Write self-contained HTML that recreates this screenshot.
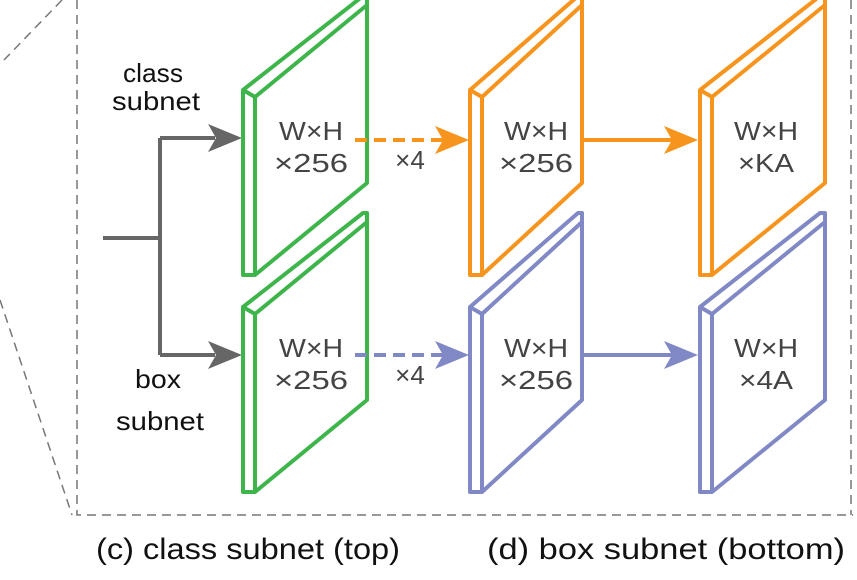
<!DOCTYPE html>
<html><head><style>body{margin:0;background:#fff}svg{display:block}</style></head><body>
<svg width="857" height="580" viewBox="0 0 857 580" xmlns="http://www.w3.org/2000/svg" font-family="Liberation Sans, sans-serif">
<g stroke="#777" stroke-width="1.5" stroke-dasharray="9,6" fill="none">
<path d="M77 0 V515 H853"/><path d="M851 0 V515"/>
<path d="M62 0 L4 60"/><path d="M0 300 L72 515"/>
</g>
<g stroke="#666" stroke-width="4" fill="none">
<path d="M103 238 H160 M160 138 V355 M160 138 H215 M160 355 H215"/>
</g>
<path d="M208 124 L242 138 L208 152 L216 138z" fill="#666"/>
<path d="M208 341 L242 355 L208 369 L216 355z" fill="#666"/>
<g stroke-width="4" stroke-linejoin="round" fill="#fff">
<g stroke="#3db54a">
<path d="M243 90 L363 -4 L367 -4 L367 183 L255 275 L243 275 Z"/><path d="M243 90 L255 97 L255 275 M255 97 L367 5" fill="none"/>
<path d="M243 307 L363 213 L367 213 L367 400 L255 492 L243 492 Z"/><path d="M243 307 L255 314 L255 492 M255 314 L367 222" fill="none"/>
</g>
<g stroke="#f7941d">
<path d="M470 90 L578 -4 L582 -4 L582 183 L482 275 L470 275 Z"/><path d="M470 90 L482 97 L482 275 M482 97 L582 5" fill="none"/>
<path d="M700 90 L820 -4 L825 -4 L825 183 L712 275 L700 275 Z"/><path d="M700 90 L712 97 L712 275 M712 97 L825 5" fill="none"/>
</g>
<g stroke="#8088c5">
<path d="M470 307 L578 213 L582 213 L582 400 L482 492 L470 492 Z"/><path d="M470 307 L482 314 L482 492 M482 314 L582 222" fill="none"/>
<path d="M700 307 L820 213 L825 213 L825 400 L712 492 L700 492 Z"/><path d="M700 307 L712 314 L712 492 M712 314 L825 222" fill="none"/>
</g>
</g>
<g stroke-width="4" fill="none">
<path d="M355 140 H445" stroke="#f7941d" stroke-dasharray="12,7"/>
<path d="M582 140 H675" stroke="#f7941d"/>
<path d="M355 355 H445" stroke="#8088c5" stroke-dasharray="12,7"/>
<path d="M582 355 H675" stroke="#8088c5"/>
</g>
<path d="M435 126 L469 140 L435 154 L443 140z" fill="#f7941d"/>
<path d="M664 126 L698 140 L664 154 L672 140z" fill="#f7941d"/>
<path d="M435 341 L469 355 L435 369 L443 355z" fill="#8088c5"/>
<path d="M664 341 L698 355 L664 369 L672 355z" fill="#8088c5"/>
<g fill="#444" font-size="26" text-anchor="middle" lengthAdjust="spacingAndGlyphs">
<text x="311" y="140" textLength="64" lengthAdjust="spacingAndGlyphs">W×H</text><text x="311" y="172" textLength="74" lengthAdjust="spacingAndGlyphs">×256</text>
<text x="536" y="140" textLength="64" lengthAdjust="spacingAndGlyphs">W×H</text><text x="536" y="172" textLength="74" lengthAdjust="spacingAndGlyphs">×256</text>
<text x="766" y="140" textLength="64" lengthAdjust="spacingAndGlyphs">W×H</text><text x="766" y="172" textLength="56" lengthAdjust="spacingAndGlyphs">×KA</text>
<text x="311" y="357" textLength="64" lengthAdjust="spacingAndGlyphs">W×H</text><text x="311" y="389" textLength="74" lengthAdjust="spacingAndGlyphs">×256</text>
<text x="536" y="357" textLength="64" lengthAdjust="spacingAndGlyphs">W×H</text><text x="536" y="389" textLength="74" lengthAdjust="spacingAndGlyphs">×256</text>
<text x="766" y="357" textLength="64" lengthAdjust="spacingAndGlyphs">W×H</text><text x="766" y="389" textLength="54" lengthAdjust="spacingAndGlyphs">×4A</text>
<text x="410" y="169">×4</text><text x="410" y="384">×4</text>
</g>
<g fill="#111" font-size="26" text-anchor="middle">
<text x="153" y="82" textLength="60" lengthAdjust="spacingAndGlyphs">class</text><text x="156" y="110" textLength="88" lengthAdjust="spacingAndGlyphs">subnet</text>
<text x="158" y="388" textLength="46" lengthAdjust="spacingAndGlyphs">box</text><text x="160" y="430" textLength="88" lengthAdjust="spacingAndGlyphs">subnet</text>
</g>
<g fill="#111" font-size="30">
<text x="96" y="559" textLength="304" lengthAdjust="spacingAndGlyphs">(c) class subnet (top)</text>
<text x="487" y="559" textLength="358" lengthAdjust="spacingAndGlyphs">(d) box subnet (bottom)</text>
</g>
</svg>
</body></html>
